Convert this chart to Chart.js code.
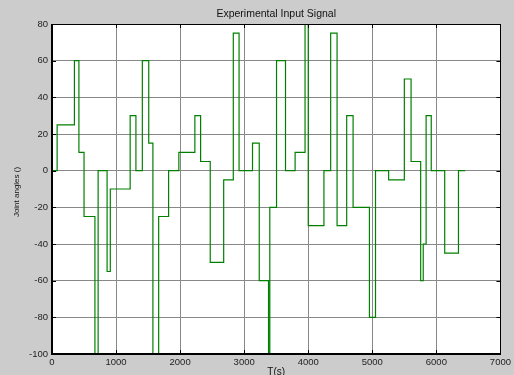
<!DOCTYPE html>
<html>
<head>
<meta charset="utf-8">
<script src="https://cdn.jsdelivr.net/npm/chart.js@4"></script>
<style>
html,body{margin:0;padding:0;background:#cccccc;}
#wrap{width:514px;height:375px;position:relative;}
</style>
</head>
<body>
<div id="wrap"><canvas id="c" width="514" height="375"></canvas></div>
<script>
// Transition times (s) and the value held from that time on
const times = [0, 80, 350, 420, 500, 670, 720, 860, 910, 1220, 1310, 1410, 1510, 1575, 1665, 1820, 1980, 2230, 2320, 2470, 2680, 2830, 2920, 3130, 3235, 3380, 3400, 3505, 3645, 3795, 3950, 4000, 4245, 4350, 4450, 4600, 4700, 4955, 5050, 5255, 5500, 5605, 5755, 5795, 5840, 5920, 6130, 6345, 6450];
const angles = [0, 25, 60, 10, -25, -100, 0, -55, -10, 30, 0, 60, 15, -100, -25, 0, 10, 30, 5, -50, -5, 75, 0, 15, -60, -100, -20, 60, 0, 10, 80, -30, 0, 75, -30, 30, -20, -80, 0, -5, 50, 5, -60, -40, 30, 0, -45, 0, 0];
const xTicks = [0, 1000, 2000, 3000, 4000, 5000, 6000, 7000];
const yTicks = [-100, -80, -60, -40, -20, 0, 20, 40, 60, 80];
const titleText = 'Experimental Input Signal';
const xLabel = 'T(s)';
const yLabel = 'Joint angles ()';

const points = times.map((t, i) => ({x: t, y: angles[i]}));
const FONT = '"Liberation Sans", Arial, sans-serif';

const decor = {
  id: 'decor',
  beforeDraw(chart) {
    const ctx = chart.ctx, a = chart.chartArea;
    ctx.save();
    ctx.fillStyle = '#cccccc';
    ctx.fillRect(0, 0, chart.width, chart.height);
    ctx.fillStyle = '#ffffff';
    ctx.fillRect(a.left, a.top, a.right - a.left, a.bottom - a.top);
    ctx.restore();
  },
  afterDraw(chart) {
    const ctx = chart.ctx, a = chart.chartArea;
    const xs = chart.scales.x, ys = chart.scales.y;
    ctx.save();
    // inward ticks
    ctx.strokeStyle = '#000000';
    ctx.lineWidth = 1;
    ctx.beginPath();
    xTicks.forEach(v => {
      const px = Math.round(xs.getPixelForValue(v)) + 0.5;
      ctx.moveTo(px, a.bottom); ctx.lineTo(px, a.bottom - 4);
      ctx.moveTo(px, a.top); ctx.lineTo(px, a.top + 4);
    });
    yTicks.forEach(v => {
      const py = Math.round(ys.getPixelForValue(v)) + 0.5;
      ctx.moveTo(a.left, py); ctx.lineTo(a.left + 4, py);
      ctx.moveTo(a.right, py); ctx.lineTo(a.right - 4, py);
    });
    ctx.stroke();
    // box
    ctx.lineWidth = 1;
    ctx.strokeRect(Math.round(a.left) + 0.5, Math.round(a.top) + 0.5, Math.round(a.right - a.left), Math.round(a.bottom - a.top));
    ctx.lineWidth = 2;
    ctx.beginPath();
    ctx.moveTo(a.left, a.top); ctx.lineTo(a.left, a.bottom); ctx.lineTo(a.right, a.bottom);
    ctx.stroke();
    // texts
    ctx.fillStyle = '#111111';
    ctx.textAlign = 'center';
    ctx.textBaseline = 'middle';
    ctx.font = '10.5px ' + FONT;
    ctx.fillText(titleText, (a.left + a.right) / 2, 14);
    ctx.font = '10px ' + FONT;
    ctx.fillText(xLabel, (a.left + a.right) / 2, 372);
    ctx.translate(17, 192);
    ctx.rotate(-Math.PI / 2);
    ctx.font = '8px ' + FONT;
    ctx.fillText(yLabel, 0, 0);
    ctx.restore();
  }
};

new Chart(document.getElementById('c'), {
  type: 'line',
  data: {
    datasets: [{
      data: points,
      stepped: 'before',
      borderColor: '#008000',
      borderWidth: 1.2,
      pointRadius: 0,
      fill: false,
      tension: 0
    }]
  },
  options: {
    responsive: false,
    animation: false,
    events: [],
    layout: {padding: {left: 0, top: 24, right: 13, bottom: 0}},
    plugins: {legend: {display: false}, tooltip: {enabled: false}, title: {display: false}},
    scales: {
      x: {
        type: 'linear', min: 0, max: 7000,
        afterBuildTicks: s => { s.ticks = xTicks.map(v => ({value: v})); },
        afterFit: s => { s.height = 21; },
        grid: {color: '#888888', lineWidth: 1, drawTicks: false},
        border: {display: false},
        ticks: {padding: 3, color: '#222222', font: {size: 9.5, family: FONT}, maxRotation: 0,
                callback: v => String(v)}
      },
      y: {
        type: 'linear', min: -100, max: 80,
        afterBuildTicks: s => { s.ticks = yTicks.map(v => ({value: v})); },
        afterFit: s => { s.width = 52; },
        grid: {color: '#888888', lineWidth: 1, drawTicks: false},
        border: {display: false},
        ticks: {padding: 4, color: '#222222', font: {size: 9.5, family: FONT},
                callback: v => String(v)}
      }
    }
  },
  plugins: [decor]
});
</script>
</body>
</html>
